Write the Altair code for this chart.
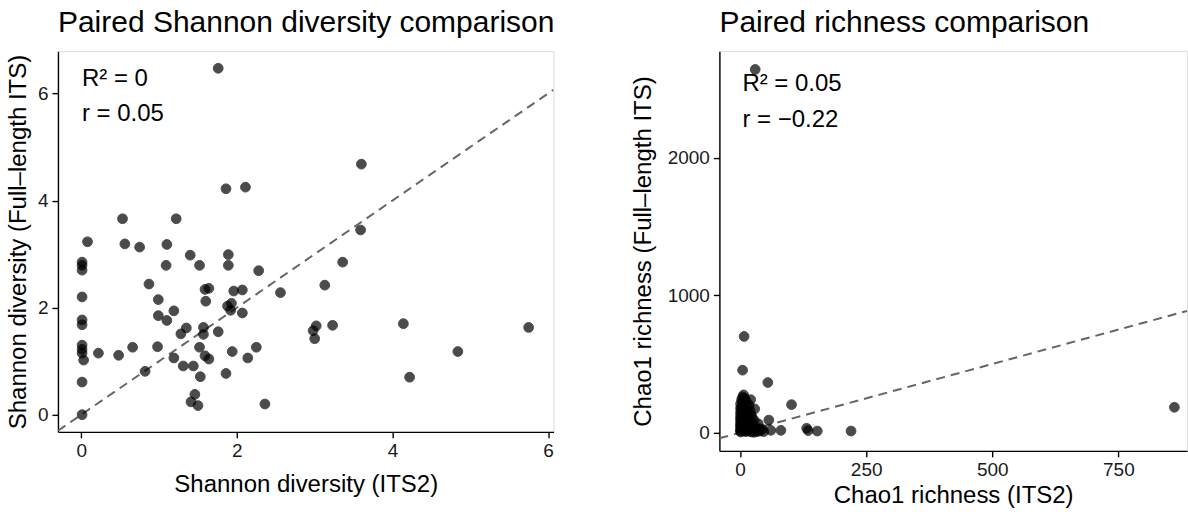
import altair as alt
import pandas as pd

# ---------------- data: Shannon diversity (ITS2 vs full-length ITS) ----------------
shannon_its2 = [
    1.76, 1.86, 2.11, 0.53, 1.22, 3.60, 3.59,
    0.08, 0.56, 0.75, 1.10, 0.01, 0.01, 0.01, 1.40, 1.89, 1.09, 1.52, 1.89, 2.28,
    0.87, 1.59, 1.64, 1.96, 2.07, 2.56, 0.01, 0.99, 1.60, 1.88, 1.93, 1.92, 2.07,
    1.19, 0.99, 1.10, 0.01, 0.01, 1.35, 1.57, 1.28, 1.57, 1.76,
    0.01, 0.01, 0.01, 0.03, 0.22, 0.48, 0.66, 0.98, 1.52, 1.19, 1.59, 1.64,
    1.94, 2.25, 2.14, 1.31, 1.44, 0.82, 1.53, 1.86, 0.01, 1.46, 1.41, 1.50,
    2.36, 0.01,
    3.36, 3.13, 3.02, 2.98, 3.23, 3.00, 4.14, 5.75, 4.84, 4.22,
]
shannon_full = [
    6.47, 4.22, 4.25, 3.66, 3.66, 4.68, 3.45,
    3.23, 3.19, 3.13, 3.18, 2.85, 2.79, 2.70, 2.98, 2.99, 2.79, 2.79, 2.79, 2.69,
    2.44, 2.34, 2.36, 2.31, 2.33, 2.28, 2.20, 2.15, 2.12, 2.03, 2.08, 1.95, 1.90,
    1.94, 1.85, 1.76, 1.77, 1.68, 1.62, 1.63, 1.51, 1.50, 1.55,
    1.30, 1.22, 1.15, 1.02, 1.15, 1.11, 1.26, 1.27, 1.26, 1.06, 1.10, 1.04,
    1.18, 1.26, 1.06, 0.91, 0.91, 0.81, 0.71, 0.77, 0.61, 0.38, 0.24, 0.17,
    0.20, 0.00,
    2.85, 2.42, 1.66, 1.57, 1.67, 1.42, 1.70, 1.63, 1.18, 0.70,
]

# ---------------- data: Chao1 richness (ITS2 vs full-length ITS) ----------------
chao1_its2 = [
    30, 8, 5, 55, 102, 861, 29, 57, 61, 81, 132, 135, 153, 220,
    1, 1, 1, 1, 1, 1, 1, 1, 1, 1, 1, 1, 1,
    3, 5, 7, 9, 4, 6, 8, 10, 4, 6, 8, 10, 5, 7, 9, 11, 12, 13, 14, 15,
    16, 17, 18, 19, 20, 22, 24, 25, 26, 28, 30, 32, 34, 36, 38, 40, 44, 47,
    18, 20, 12, 14, 3, 2, 21, 24, 6, 13, 23, 28, 16, 9,
]
chao1_full = [
    2643, 700, 455, 365, 204, 185, 173, 92, 17, 17, 32, 15, 12, 12,
    5, 12, 20, 35, 48, 60, 75, 95, 110, 130, 150, 180, 210,
    240, 260, 275, 250, 225, 200, 185, 165, 140, 120, 100, 80, 60, 40, 20, 8, 230, 205, 150, 120,
    95, 70, 45, 25, 10, 130, 60, 30, 15, 90, 40, 20, 8, 65, 30, 12, 25, 8,
    200, 160, 55, 30, 90, 170, 240, 110, 15, 12, 5, 3, 35, 130,
]

# 1:1 reference line end points (span of each panel)
shannon_ref = [-0.30, 6.07]
chao1_ref = [-41, 886]

shannon_x_ticks = [0, 2, 4, 6]
shannon_y_ticks = [0, 2, 4, 6]
chao1_x_ticks = [0, 250, 500, 750]
chao1_y_ticks = [0, 1000, 2000]

shannon_stats = ["R² = 0", "r = 0.05"]
chao1_stats = ["R² = 0.05", "r = −0.22"]

FONT = "Liberation Sans"


def axis(values, title, extent=None, title_pad=6):
    kw = dict(
        values=values, title=title, grid=False, format="d",
        domainColor="black", domainWidth=1.4,
        tickColor="black", tickWidth=1.4, tickSize=6,
        labelFont=FONT, labelFontSize=19, labelColor="#1a1a1a", labelPadding=4,
        titleFont=FONT, titleFontSize=24, titleFontWeight="normal", titleColor="black",
        titlePadding=title_pad,
    )
    if extent is not None:
        kw["minExtent"] = extent
        kw["maxExtent"] = extent
    return alt.Axis(**kw)


def panel(xv, yv, ref, xdom, ydom, xticks, yticks, xtitle, ytitle, stats, title,
          w, h, yext, ytp, xtp, stat_x, stat_y):
    pts = pd.DataFrame({"x": xv, "y": yv})
    refdf = pd.DataFrame({"x": ref, "y": ref})
    xs = alt.Scale(domain=xdom, nice=False, zero=False)
    ys = alt.Scale(domain=ydom, nice=False, zero=False)
    points = alt.Chart(pts).mark_circle(
        size=95, color="black", opacity=0.7, stroke="black", strokeWidth=1
    ).encode(
        x=alt.X("x:Q", scale=xs, axis=axis(xticks, xtitle, title_pad=xtp)),
        y=alt.Y("y:Q", scale=ys, axis=axis(yticks, ytitle, extent=yext, title_pad=ytp)),
    )
    line = alt.Chart(refdf).mark_line(
        color="#666666", strokeWidth=2, strokeDash=[9, 6], clip=True
    ).encode(x=alt.X("x:Q", scale=xs), y=alt.Y("y:Q", scale=ys))
    t1 = alt.Chart(pd.DataFrame({"t": [stats[0]]})).mark_text(
        align="left", baseline="middle", font=FONT, fontSize=24, color="black"
    ).encode(x=alt.value(stat_x), y=alt.value(stat_y[0]), text="t:N")
    t2 = alt.Chart(pd.DataFrame({"t": [stats[1]]})).mark_text(
        align="left", baseline="middle", font=FONT, fontSize=24, color="black"
    ).encode(x=alt.value(stat_x), y=alt.value(stat_y[1]), text="t:N")
    return alt.layer(line, points, t1, t2).properties(
        width=w, height=h,
        title=alt.TitleParams(title, anchor="start", frame="group", font=FONT,
                              fontSize=30, fontWeight="normal", color="black",
                              offset=13),
    )


left = panel(shannon_its2, shannon_full, shannon_ref, [-0.30, 6.07], [-0.32, 6.79],
             shannon_x_ticks, shannon_y_ticks, "Shannon diversity (ITS2)",
             "Shannon diversity (Full–length ITS)", shannon_stats,
             "Paired Shannon diversity comparison", 496, 381, 23, 4, 12, 24, [28, 63])

right = panel(chao1_its2, chao1_full, chao1_ref, [-41, 886], [-132, 2776],
              chao1_x_ticks, chao1_y_ticks, "Chao1 richness (ITS2)",
              "Chao1 richness (Full–length ITS)", chao1_stats,
              "Paired richness comparison", 468, 400, 55, 9, 4, 23, [33, 69])

chart = alt.hconcat(left, right, spacing=75).properties(
    padding={"left": 6, "top": 7, "right": 0, "bottom": 0}
).configure_view(stroke=None).configure(background="white")

chart.save("out.html", embed_options={"renderer": "svg", "actions": False})
